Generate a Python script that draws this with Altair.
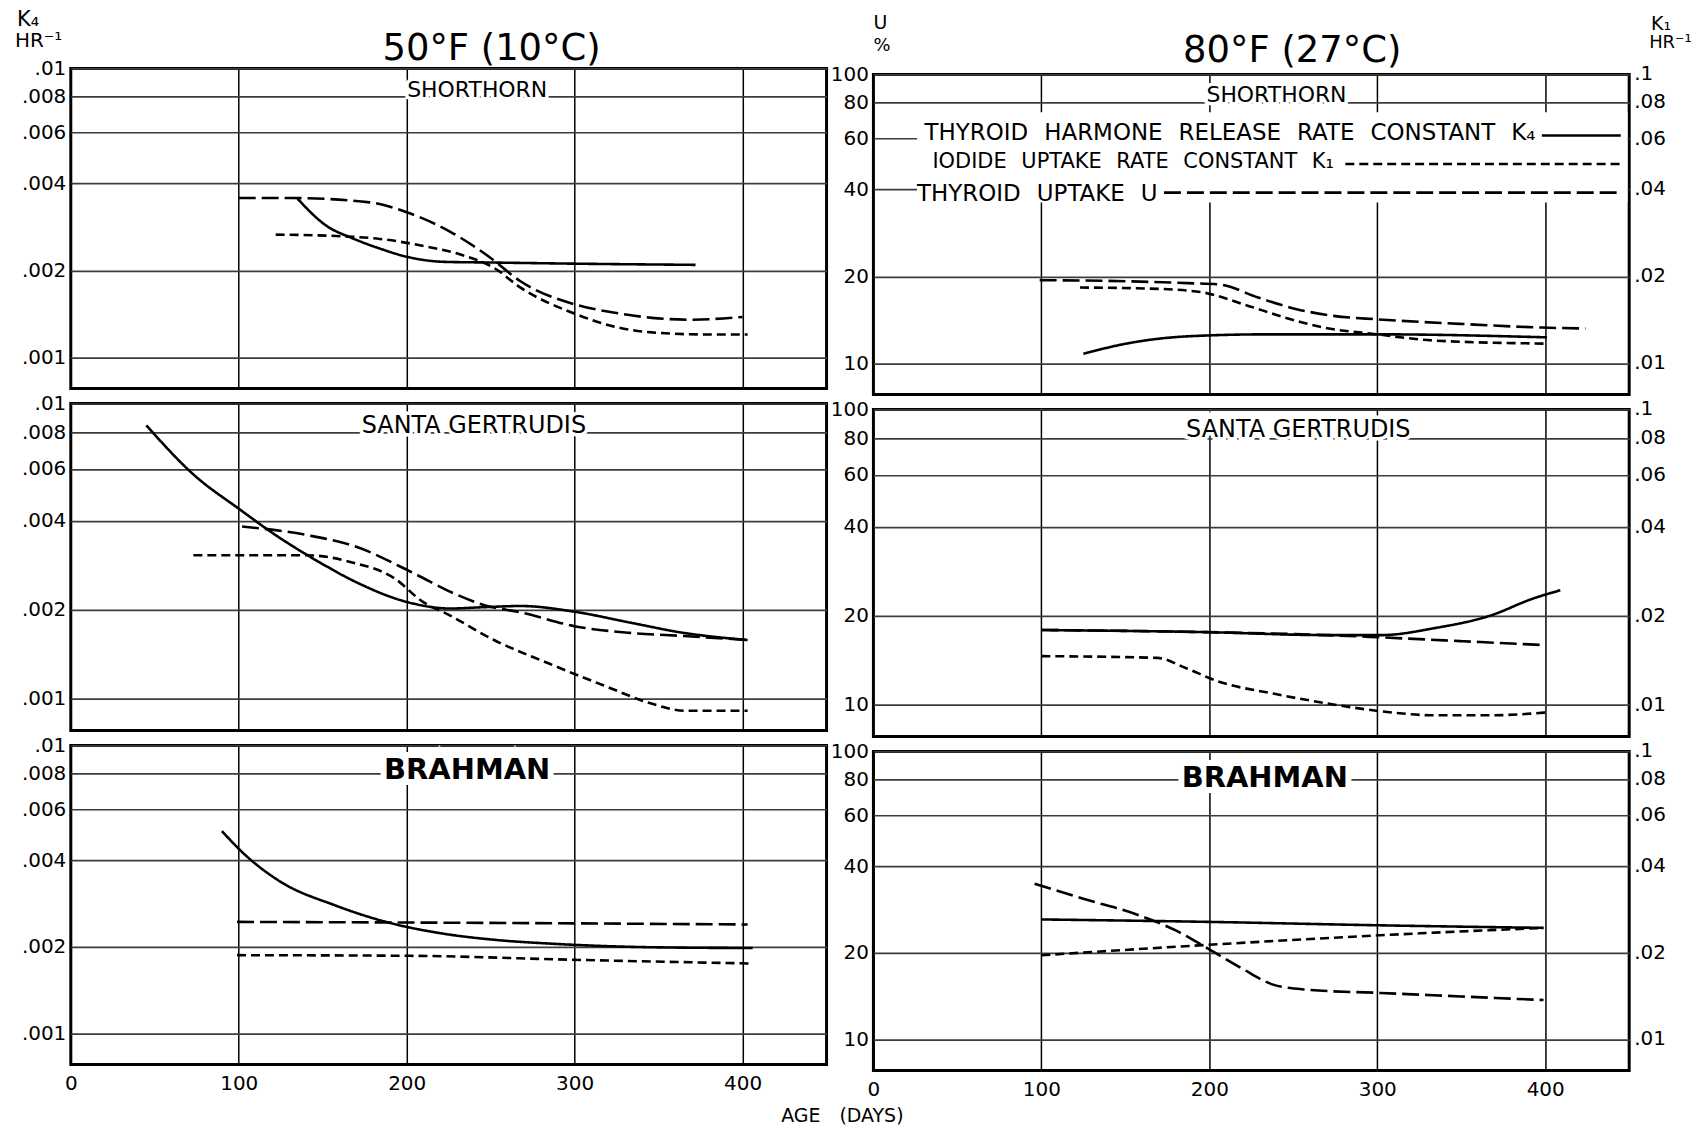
import altair as alt
import pandas as pd

FONT = "DejaVu Sans"

# ---------------- data ----------------
# Left column, 50F (10C), values in K4 axis units (HR^-1)
SH50_K4_DAY = [135, 152, 168, 184, 200, 223, 249, 300, 372]
SH50_K4_VAL = [0.00354, 0.00286, 0.00258, 0.00238, 0.00223, 0.00214, 0.00213, 0.00211, 0.00209]
SH50_K1_DAY = [122, 158, 184, 210, 233, 252, 268, 301, 323, 346, 379, 403]
SH50_K1_VAL = [0.00266, 0.00263, 0.00257, 0.00243, 0.00226, 0.00204, 0.00174, 0.00141, 0.00128, 0.00122, 0.0012, 0.0012]
SH50_U_DAY = [100, 132, 178, 200, 226, 249, 268, 301, 323, 346, 369, 400]
SH50_U_VAL = [0.00356, 0.00356, 0.00344, 0.00318, 0.00272, 0.00223, 0.00183, 0.00152, 0.00143, 0.00137, 0.00135, 0.00138]

SG50_K4_DAY = [45, 73, 101, 122, 148, 170, 201, 226, 245, 268, 300, 333, 365, 403]
SG50_K4_VAL = [0.00843, 0.00575, 0.00436, 0.00358, 0.0029, 0.00248, 0.00212, 0.00202, 0.00204, 0.00206, 0.00197, 0.00181, 0.00167, 0.00158]
SG50_K1_DAY = [73, 141, 167, 193, 209, 226, 252, 284, 317, 349, 365, 403]
SG50_K1_VAL = [0.00306, 0.00306, 0.0029, 0.00255, 0.00214, 0.00191, 0.00158, 0.00132, 0.00111, 0.00095, 0.00091, 0.00091]
SG50_U_DAY = [102, 141, 170, 203, 229, 248, 268, 300, 333, 365, 403]
SG50_U_VAL = [0.00383, 0.00358, 0.00327, 0.00268, 0.00226, 0.00206, 0.00196, 0.00176, 0.00167, 0.00163, 0.00158]

BR50_K4_DAY = [90, 104, 125, 157, 190, 222, 254, 286, 319, 351, 406]
BR50_K4_VAL = [0.00504, 0.00416, 0.00336, 0.00279, 0.00242, 0.00222, 0.00211, 0.00205, 0.00201, 0.00199, 0.00198]
BR50_K1_DAY = [99, 203, 303, 404]
BR50_K1_VAL = [0.00187, 0.00186, 0.0018, 0.00175]
BR50_U_DAY = [99, 250, 403]
BR50_U_VAL = [0.00244, 0.00242, 0.00239]

# Right column, 80F (27C), values in U axis units (%)
SH80_K4_DAY = [125, 154, 187, 235, 300, 401]
SH80_K4_VAL = [10.8, 11.8, 12.4, 12.6, 12.6, 12.3]
SH80_K1_DAY = [123, 170, 196, 222, 245, 268, 300, 333, 401]
SH80_K1_VAL = [18.3, 18.1, 17.6, 15.9, 14.4, 13.3, 12.6, 12.0, 11.7]
SH80_U_DAY = [99, 138, 187, 206, 229, 252, 274, 300, 349, 398, 424]
SH80_U_VAL = [19.4, 19.3, 18.95, 18.75, 16.9, 15.4, 14.6, 14.2, 13.7, 13.3, 13.2]

SG80_K4_DAY = [100, 199, 270, 302, 335, 367, 393, 409]
SG80_K4_VAL = [17.9, 17.6, 17.2, 17.2, 18.2, 20.0, 22.9, 24.4]
SG80_K1_DAY = [100, 169, 186, 205, 238, 270, 302, 335, 367, 400]
SG80_K1_VAL = [14.6, 14.4, 13.3, 12.0, 10.9, 10.1, 9.5, 9.2, 9.2, 9.4]
SG80_U_DAY = [100, 199, 270, 302, 351, 400]
SG80_U_VAL = [17.9, 17.6, 17.2, 16.9, 16.4, 15.9]

BR80_K4_DAY = [100, 199, 302, 399]
BR80_K4_VAL = [26.1, 25.6, 24.9, 24.4]
BR80_K1_DAY = [100, 199, 302, 399]
BR80_K1_VAL = [19.6, 21.3, 23.0, 24.4]
BR80_U_DAY = [96, 125, 158, 180, 199, 219, 238, 257, 302, 350, 399]
BR80_U_VAL = [34.7, 30.8, 27.0, 23.9, 20.7, 17.7, 15.5, 14.9, 14.5, 14.1, 13.7]

# axes / ticks
X_DOMAIN = [0, 450]
X_TICKS = [0, 100, 200, 300, 400]
X_GRID = [100, 200, 300, 400]
K4_DOMAIN = [0.00078, 0.01]
U_DOMAIN = [7.8, 100]
K4_TICKS = [0.001, 0.002, 0.004, 0.006, 0.008, 0.01]
K4_LABELS = [".001", ".002", ".004", ".006", ".008", ".01"]
U_TICKS = [10, 20, 40, 60, 80, 100]
U_LABELS = ["10", "20", "40", "60", "80", "100"]
K1_LABELS = [".01", ".02", ".04", ".06", ".08", ".1"]

SERIES = ["K4", "K1", "U"]
DASHES = [[1, 0], [9, 5], [17, 6]]

# column headers: column title and the axis titles above the scales
HDR_H = [49, 55]
HDR_TEXT = [["K\u2084", "HR\u207b\u00b9", "50°F (10°C)"],
            ["U", "%", "80°F (27°C)", "K\u2081", "HR\u207b\u00b9"]]
HDR_X = [[-54, -56, 422], [0, 0, 420, 780, 778]]
HDR_Y = [[4, 26, 56], [9, 32, 58, 10, 29]]
HDR_SIZE = [[21, 20, 37], [19, 18, 37, 19, 18]]
HDR_ALIGN = [["left", "left", "center"], ["left", "left", "center", "left", "left"]]
HDR_BASE = [["top", "top", "alphabetic"], ["top", "top", "alphabetic", "top", "top"]]

PANEL_NAMES = ["SHORTHORN", "SANTA GERTRUDIS", "BRAHMAN"]
NAME_FS = [22, 24, 29]
NAME_DAY = [[242, 240, 236], [240, 253, 233]]
NAME_VAL = [[0.0084, 0.0084, 0.0082], [85, 85, 81]]

G = "\u2002\u2009"
LEGEND_TEXT = [f"THYROID{G}HARMONE{G}RELEASE{G}RATE{G}CONSTANT{G}K\u2084",
               f"IODIDE{G}UPTAKE{G}RATE{G}CONSTANT{G}K\u2081",
               f"THYROID{G}UPTAKE{G}U"]
LEGEND_FS = [23, 21, 23]
LEGEND_TEXT_END = [396, 276, 171]
LEGEND_TEXT_VAL = [62.5, 49.8, 38.5]
LEGEND_LINE_START = [398, 281, 173]
LEGEND_LINE_END = [445, 446, 446]
LEGEND_LINE_VAL = [61.5, 49.0, 39.0]
LEGEND_MASK = {"x": [26], "x2": [449], "y": [36], "y2": [74]}

PANEL_W = [758, 758]
PANEL_H = [321, 328, 320]
ROW_GAP = 15


def lbl_expr(ticks, labels):
    expr = "''"
    for t, l in zip(ticks, labels):
        expr = f"(abs(datum.value - {t!r}) < {t * 1e-6!r}) ? '{l}' : {expr}"
    return expr


def make_df(k4, k1, u):
    rows = []
    for s, (d, v) in zip(SERIES, [k4, k1, u]):
        for a, b in zip(d, v):
            rows.append({"day": a, "val": b, "series": s})
    return pd.DataFrame(rows)


DATA = [
    [make_df((SH50_K4_DAY, SH50_K4_VAL), (SH50_K1_DAY, SH50_K1_VAL), (SH50_U_DAY, SH50_U_VAL)),
     make_df((SG50_K4_DAY, SG50_K4_VAL), (SG50_K1_DAY, SG50_K1_VAL), (SG50_U_DAY, SG50_U_VAL)),
     make_df((BR50_K4_DAY, BR50_K4_VAL), (BR50_K1_DAY, BR50_K1_VAL), (BR50_U_DAY, BR50_U_VAL))],
    [make_df((SH80_K4_DAY, SH80_K4_VAL), (SH80_K1_DAY, SH80_K1_VAL), (SH80_U_DAY, SH80_U_VAL)),
     make_df((SG80_K4_DAY, SG80_K4_VAL), (SG80_K1_DAY, SG80_K1_VAL), (SG80_U_DAY, SG80_U_VAL)),
     make_df((BR80_K4_DAY, BR80_K4_VAL), (BR80_K1_DAY, BR80_K1_VAL), (BR80_U_DAY, BR80_U_VAL))],
]

dash_scale = alt.Scale(domain=SERIES, range=DASHES)


def header(col):
    W, H = PANEL_W[col], HDR_H[col]
    one = alt.Data(values=[{"k": 0}])
    layers = [alt.Chart(one).mark_rect(opacity=0).encode(
        x=alt.value(0), x2=alt.value(W), y=alt.value(0), y2=alt.value(H))]
    for t, x, y, s, a, b in zip(HDR_TEXT[col], HDR_X[col], HDR_Y[col], HDR_SIZE[col],
                                HDR_ALIGN[col], HDR_BASE[col]):
        layers.append(alt.Chart(one).mark_text(font=FONT, fontSize=s, color="black", align=a,
                                               baseline=b).encode(
            x=alt.value(x), y=alt.value(y), text=alt.value(t)))
    return alt.layer(*layers).properties(
        width=W, height=H, view=alt.ViewBackground(stroke="transparent", strokeWidth=0))


def panel(col, row):
    left = col == 0
    bottom = row == 2
    dom = K4_DOMAIN if left else U_DOMAIN
    xs = alt.Scale(domain=X_DOMAIN, nice=False, zero=False)
    ys = alt.Scale(type="log", domain=dom, nice=False)
    xaxis = alt.Axis(values=X_TICKS if bottom else X_GRID, labels=bottom, grid=True,
                     gridColor="black", gridWidth=1.5, ticks=False, domain=False, title=None,
                     labelFont=FONT, labelFontSize=20, labelColor="black", labelPadding=9,
                     labelFlush=False)
    yaxis = alt.Axis(values=K4_TICKS if left else U_TICKS,
                     labelExpr=lbl_expr(K4_TICKS, K4_LABELS) if left else lbl_expr(U_TICKS, U_LABELS),
                     grid=True, gridColor="#3c3c3c", gridWidth=1.7, ticks=False, domain=False,
                     labelFont=FONT, labelFontSize=20, labelColor="black", labelPadding=5,
                     title=None)

    def X(f):
        return alt.X(f"{f}:Q", scale=xs, axis=xaxis)

    def Y(f):
        return alt.Y(f"{f}:Q", scale=ys, axis=yaxis)

    df = DATA[col][row]
    lines = alt.Chart(df).mark_line(interpolate="monotone", color="black", strokeWidth=2.6).encode(
        x=X("day"), y=Y("val"),
        strokeDash=alt.StrokeDash("series:N", scale=dash_scale, legend=None),
    )

    name_df = pd.DataFrame({"day": [NAME_DAY[col][row]], "val": [NAME_VAL[col][row]],
                            "text": [PANEL_NAMES[row]]})
    bold = row == 2
    fs = NAME_FS[row]
    fw = "bold" if bold else "normal"
    halo_w = 12 if bold else 7
    halo = alt.Chart(name_df).mark_text(font=FONT, fontSize=fs, fontWeight=fw, color="white",
                                        stroke="white", strokeWidth=halo_w,
                                        baseline="middle").encode(x=X("day"), y=Y("val"), text="text:N")
    name = alt.Chart(name_df).mark_text(font=FONT, fontSize=fs, fontWeight=fw, color="black",
                                        baseline="middle").encode(x=X("day"), y=Y("val"), text="text:N")
    layers = [lines, halo, name]

    if (not left) and row == 0:
        mask = alt.Chart(pd.DataFrame(LEGEND_MASK)).mark_rect(color="white").encode(
            x=X("x"), x2="x2:Q", y=Y("y"), y2="y2:Q")
        leg_df = pd.DataFrame({"text": LEGEND_TEXT, "tx": LEGEND_TEXT_END, "ty": LEGEND_TEXT_VAL,
                               "x": LEGEND_LINE_START, "x2": LEGEND_LINE_END, "fs": LEGEND_FS,
                               "ly": LEGEND_LINE_VAL, "series": SERIES})
        leg_lines = alt.Chart(leg_df).mark_rule(color="black", strokeWidth=2.6).encode(
            x=X("x"), x2="x2:Q", y=Y("ly"),
            strokeDash=alt.StrokeDash("series:N", scale=dash_scale, legend=None))
        leg_text = alt.Chart(leg_df).mark_text(font=FONT, color="black", align="right",
                                               baseline="middle", dx=-3).encode(
            x=X("tx"), y=Y("ty"), text="text:N", size=alt.Size("fs:Q", scale=None, legend=None))
        layers = [lines, mask, halo, name, leg_lines, leg_text]

    if not left:
        # right-hand K1 scale (K1 = U / 1000, same log positions)
        rdf = pd.DataFrame({"day": [X_DOMAIN[1]] * len(U_TICKS), "val": U_TICKS, "text": K1_LABELS})
        rlab = alt.Chart(rdf).mark_text(font=FONT, fontSize=20, color="black", align="left",
                                        baseline="middle", dx=5).encode(
            x=X("day"), y=Y("val"), text="text:N")
        layers.append(rlab)

    return alt.layer(*layers).properties(width=PANEL_W[col], height=PANEL_H[row])


cols = []
for c in range(2):
    cols.append(alt.vconcat(header(c), *[panel(c, r) for r in range(3)], spacing=ROW_GAP,
                            bounds="flush"))

chart = alt.hconcat(*cols, spacing=0,
                    title=alt.Title("AGE\u2003(DAYS)", orient="bottom", font=FONT, fontSize=19,
                                    fontWeight="normal", color="black", anchor="middle",
                                    dx=-11, offset=6)
                    ).configure(
    font=FONT, padding={"left": 15, "top": 3, "right": 0, "bottom": 0}, background="white"
).configure_view(stroke="black", strokeWidth=3)

chart.save("out.html", embed_options={"renderer": "svg", "actions": False})
